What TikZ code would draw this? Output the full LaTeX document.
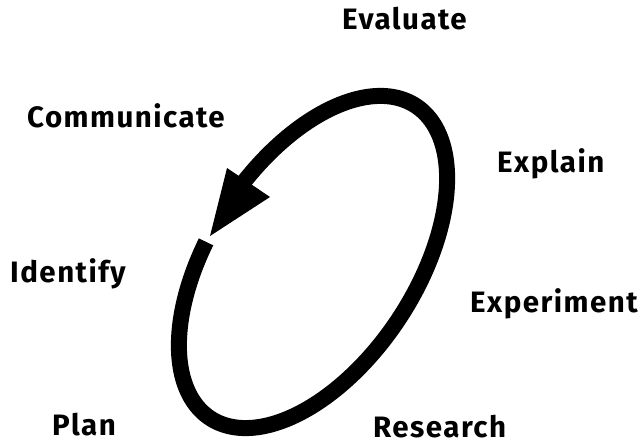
\documentclass[tikz,border=0pt]{standalone}
\usepackage{fontspec}
\setmainfont{Fira Sans}[BoldFont={Fira Sans Bold},LetterSpace=5]
\begin{document}
\begin{tikzpicture}[x=1pt,y=1pt,
  lbl/.style={anchor=base west,inner sep=0pt,font=\fontsize{29.5}{29.5}\selectfont\bfseries},
  loop/.style={line width=16pt,line cap=butt}]
\useasboundingbox (0,0) rectangle (644,444);
\fill[white] (0,0) rectangle (644,444);
% ellipse loop: centre (313,182), a=187, b=103, tilt 56.6
\draw[loop] plot[domain=103:442,samples=240,smooth]
  ({313+187*cos(\x)*cos(56.6)-103*sin(\x)*sin(56.6)},
   {182+187*cos(\x)*sin(56.6)+103*sin(\x)*cos(56.6)});
\coordinate (hl) at (227,276);
\coordinate (hr) at (270,247);
\coordinate (tip) at (210,208);
\fill (hl) -- (hr) -- (tip) -- cycle;
\node[lbl] (evaluate) at (342,414) {Evaluate};
\node[lbl] (communicate) at (27,316) {Communicate};
\node[lbl] (explain) at (497,271) {Explain};
\node[lbl] (identify) at (10,161) {Identify};
\node[lbl] (experiment) at (470,131) {Experiment};
\node[lbl] (plan) at (52,9) {Plan};
\node[lbl] (research) at (373,7) {Research};
\end{tikzpicture}
\end{document}
